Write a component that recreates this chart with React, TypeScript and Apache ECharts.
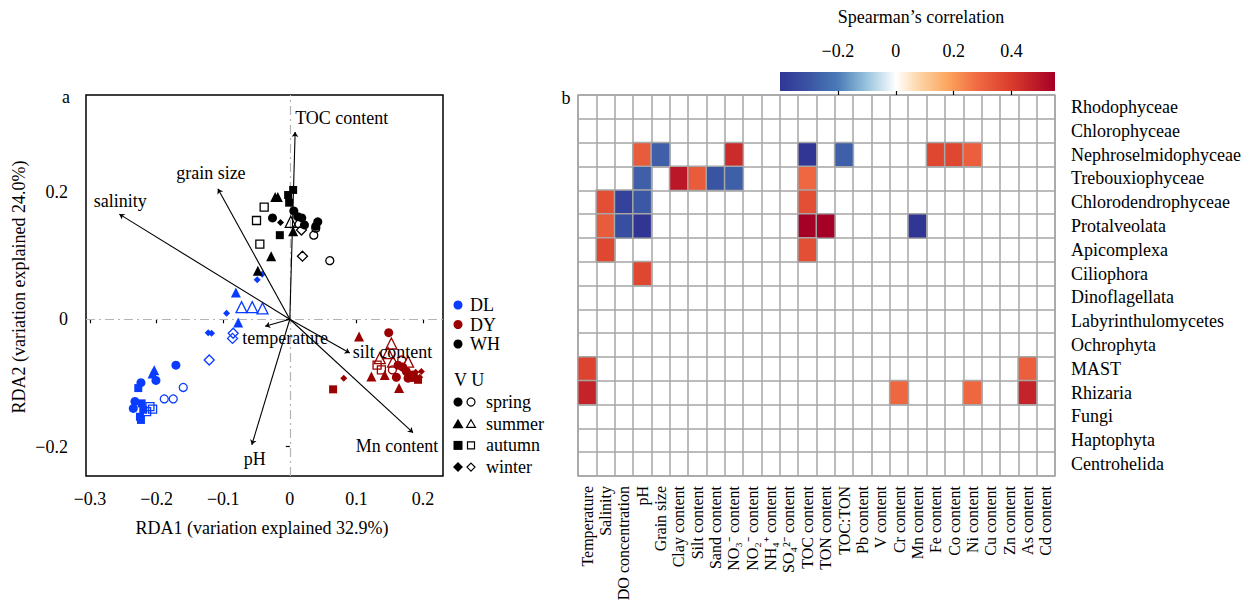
import React, { useEffect, useRef } from "react";
import * as echarts from "echarts";

const FONT = "'Liberation Serif', 'Times New Roman', Times, serif";

// ---------- Panel a: RDA ordination ----------
const sites = ["DL", "DY", "WH"];
const siteColors: Record<string, string> = { DL: "#0a3cff", DY: "#9a0000", WH: "#000000" };
const seasons = ["spring", "summer", "autumn", "winter"];
const seasonSymbols: Record<string, string> = { spring: "circle", summer: "triangle", autumn: "rect", winter: "diamond" };

// [RDA1, RDA2, season, vegetated V=1 / unvegetated U=0]
const DL_samples: [number, number, string, number][] = [
  [-0.171, -0.072, "spring", 1], [-0.201, -0.096, "spring", 1], [-0.2235, -0.0995, "spring", 1],
  [-0.2325, -0.129, "spring", 1], [-0.235, -0.14, "spring", 1],
  [-0.16, -0.107, "spring", 0], [-0.1885, -0.125, "spring", 0], [-0.175, -0.125, "spring", 0],
  [-0.081, 0.042, "summer", 1], [-0.0775, -0.005, "summer", 1], [-0.2035, -0.08, "summer", 1], [-0.206, -0.085, "summer", 1],
  [-0.0725, 0.019, "summer", 0], [-0.0565, 0.019, "summer", 0], [-0.041, 0.017, "summer", 0],
  [-0.2275, -0.108, "autumn", 1], [-0.2225, -0.132, "autumn", 1], [-0.22, -0.142, "autumn", 1],
  [-0.225, -0.153, "autumn", 1], [-0.2235, -0.158, "autumn", 1],
  [-0.21, -0.137, "autumn", 0], [-0.206, -0.141, "autumn", 0], [-0.215, -0.145, "autumn", 0],
  [-0.0415, 0.0705, "winter", 1], [-0.049, 0.062, "winter", 1], [-0.095, 0.0095, "winter", 1],
  [-0.1225, -0.021, "winter", 1], [-0.1175, -0.022, "winter", 1],
  [-0.085, -0.022, "winter", 0], [-0.086, -0.03, "winter", 0], [-0.121, -0.064, "winter", 0],
];

const DY_samples: [number, number, string, number][] = [
  [0.1485, -0.021, "spring", 1], [0.1625, -0.072, "spring", 1], [0.175, -0.082, "spring", 1],
  [0.185, -0.0875, "spring", 1], [0.1775, -0.0925, "spring", 1], [0.16, -0.091, "spring", 1], [0.1695, -0.075, "spring", 1],
  [0.154, -0.0795, "spring", 0], [0.168, -0.064, "spring", 0],
  [0.104, -0.027, "summer", 1], [0.1225, -0.09, "summer", 1], [0.1425, -0.0875, "summer", 1], [0.164, -0.108, "summer", 1],
  [0.1525, -0.038, "summer", 0], [0.1475, -0.053, "summer", 0], [0.135, -0.061, "summer", 0],
  [0.1775, -0.0665, "summer", 0], [0.155, -0.0665, "summer", 0],
  [0.065, -0.11, "autumn", 1], [0.1925, -0.095, "autumn", 1], [0.186, -0.092, "autumn", 1],
  [0.131, -0.072, "autumn", 0], [0.1375, -0.0795, "autumn", 0],
  [0.081, -0.0925, "winter", 1], [0.1975, -0.082, "winter", 1], [0.195, -0.091, "winter", 1], [0.189, -0.083, "winter", 1],
];

const WH_samples: [number, number, string, number][] = [
  [-0.026, 0.159, "spring", 1], [0.006, 0.17, "spring", 1], [0.012, 0.161, "spring", 1], [0.018, 0.159, "spring", 1],
  [0.022, 0.148, "spring", 1], [0.042, 0.153, "spring", 1], [0.039, 0.146, "spring", 1],
  [0.036, 0.132, "spring", 0], [0.039, 0.143, "spring", 0], [0.06, 0.092, "spring", 0],
  [-0.022, 0.192, "summer", 1], [-0.018, 0.192, "summer", 1], [0.005, 0.138, "summer", 1],
  [-0.028, 0.099, "summer", 1], [-0.048, 0.076, "summer", 1],
  [0.0015, 0.153, "summer", 0], [0.0135, 0.153, "summer", 0],
  [0.005, 0.203, "autumn", 1], [-0.0025, 0.195, "autumn", 1], [-0.001, 0.183, "autumn", 1], [-0.015, 0.132, "autumn", 1],
  [-0.0385, 0.176, "autumn", 0], [-0.05, 0.155, "autumn", 0], [-0.045, 0.118, "autumn", 0],
  [-0.014, 0.152, "winter", 1],
  [0.0175, 0.14, "winter", 0], [0.019, 0.099, "winter", 0],
];

const samplesBySite: Record<string, [number, number, string, number][]> = {
  DL: DL_samples, DY: DY_samples, WH: WH_samples,
};

// environmental vectors (biplot arrows)
const envVars = ["TOC content", "grain size", "salinity", "temperature", "silt content", "Mn content", "pH"];
const envRDA1 = [0.008, -0.108, -0.256, -0.037, 0.09, 0.185, -0.057];
const envRDA2 = [0.294, 0.205, 0.165, -0.011, -0.053, -0.178, -0.197];

const rdaXTicks = [-0.3, -0.2, -0.1, 0, 0.1, 0.2];
const rdaYTicks = [-0.2, 0, 0.2];

// ---------- Panel b: Spearman heatmap ----------
const factors = [
  "Temperature", "Salinity", "DO concentration", "pH", "Grain size", "Clay content", "Silt content",
  "Sand content", "NO\u2083\u207B content", "NO\u2082\u207B content", "NH\u2084\u207A content",
  "SO\u2084\u00B2\u207B content", "TOC content", "TON content", "TOC:TON", "Pb content", "V content",
  "Cr content", "Mn content", "Fe content", "Co content", "Ni content", "Cu content", "Zn content",
  "As content", "Cd content",
];
const taxa = [
  "Rhodophyceae", "Chlorophyceae", "Nephroselmidophyceae", "Trebouxiophyceae", "Chlorodendrophyceae",
  "Protalveolata", "Apicomplexa", "Ciliophora", "Dinoflagellata", "Labyrinthulomycetes", "Ochrophyta",
  "MAST", "Rhizaria", "Fungi", "Haptophyta", "Centrohelida",
];
// [factor index, taxon index, rho]
const corrCells: [number, number, number][] = [
  [3, 2, 0.32], [4, 2, -0.27], [8, 2, 0.44], [12, 2, -0.4], [14, 2, -0.27], [19, 2, 0.37], [20, 2, 0.37], [21, 2, 0.31],
  [3, 3, -0.27], [5, 3, 0.49], [6, 3, 0.32], [7, 3, -0.3], [8, 3, -0.27], [12, 3, 0.29],
  [1, 4, 0.35], [2, 4, -0.36], [3, 4, -0.29], [12, 4, 0.35],
  [1, 5, 0.32], [2, 5, -0.32], [3, 5, -0.4], [12, 5, 0.55], [13, 5, 0.55], [18, 5, -0.4],
  [1, 6, 0.37], [12, 6, 0.35],
  [3, 7, 0.37],
  [0, 11, 0.38], [24, 11, 0.31],
  [0, 12, 0.46], [17, 12, 0.29], [21, 12, 0.29], [24, 12, 0.46],
];
const cbTicks = [-0.2, 0, 0.2, 0.4];
const CB_MIN = -0.4;
const CB_MAX = 0.55;

const colorStops: [number, string][] = [
  [-0.4, "#313695"], [-0.3, "#3a54a4"], [-0.2, "#4a7bb7"], [-0.1, "#98c4de"], [0, "#ffffff"],
  [0.08, "#fdd5a8"], [0.18, "#fca55d"], [0.28, "#f06b43"], [0.4, "#d93b2b"], [0.55, "#a50026"],
];

function hexToRgb(h: string) {
  return [parseInt(h.slice(1, 3), 16), parseInt(h.slice(3, 5), 16), parseInt(h.slice(5, 7), 16)];
}
function colorAt(v: number) {
  if (v <= colorStops[0][0]) return colorStops[0][1];
  for (let i = 1; i < colorStops.length; i++) {
    if (v <= colorStops[i][0]) {
      const [v0, c0] = colorStops[i - 1];
      const [v1, c1] = colorStops[i];
      const t = (v - v0) / (v1 - v0);
      const a = hexToRgb(c0), b = hexToRgb(c1);
      const c = a.map((x, k) => Math.round(x + (b[k] - x) * t));
      return "#" + c.map((x) => x.toString(16).padStart(2, "0")).join("");
    }
  }
  return colorStops[colorStops.length - 1][1];
}

const fmt = (v: number) => (v < 0 ? "\u2212" + String(Math.abs(v)) : String(v));

// label offsets (px) for arrow labels
const envLabelStyle: Record<string, { offset: [number, number]; align: string }> = {
  "TOC content": { offset: [0, -14], align: "left" },
  "grain size": { offset: [-7, -16], align: "center" },
  "salinity": { offset: [1, -13], align: "center" },
  "temperature": { offset: [-23, 12], align: "left" },
  "silt content": { offset: [3, -1], align: "left" },
  "Mn content": { offset: [-16, 13], align: "center" },
  "pH": { offset: [3, 14], align: "center" },
};

const symbolSize: Record<string, [number, number]> = {
  // [filled, hollow]
  spring: [9, 8], summer: [10, 11], autumn: [8, 8], winter: [7, 10],
};

function buildOption() {
  const series: any[] = [];

  // sample points
  sites.forEach((site) => {
    seasons.forEach((season) => {
      [1, 0].forEach((veg) => {
        const pts = samplesBySite[site].filter((p) => p[2] === season && p[3] === veg).map((p) => [p[0], p[1]]);
        if (!pts.length) return;
        series.push({
          type: "scatter",
          name: `${site}-${season}-${veg ? "V" : "U"}`,
          xAxisIndex: 0, yAxisIndex: 0,
          symbol: seasonSymbols[season],
          symbolSize: symbolSize[season][veg ? 0 : 1],
          data: pts,
          itemStyle: veg
            ? { color: siteColors[site], borderWidth: 0, opacity: 1 }
            : { color: "rgba(255,255,255,0)", borderColor: siteColors[site], borderWidth: 1.3, opacity: 1 },
          z: 3,
          silent: true,
        });
      });
    });
  });

  // arrows
  series.push({
    type: "lines",
    coordinateSystem: "cartesian2d",
    xAxisIndex: 0, yAxisIndex: 0,
    symbol: ["none", "arrow"],
    symbolSize: 5,
    lineStyle: { color: "#000", width: 1.1, opacity: 1, curveness: 0 },
    data: envVars.map((n, i) => ({ coords: [[0, 0], [envRDA1[i], envRDA2[i]]] })),
    z: 5,
    silent: true,
  });

  // arrow labels + zero lines
  series.push({
    type: "scatter",
    xAxisIndex: 0, yAxisIndex: 0,
    symbolSize: 0,
    itemStyle: { opacity: 1 },
    data: envVars.map((n, i) => ({
      value: [envRDA1[i], envRDA2[i]],
      name: n,
      label: {
        show: true,
        position: "inside",
        formatter: n,
        offset: envLabelStyle[n].offset,
        align: envLabelStyle[n].align,
        verticalAlign: "middle",
        color: "#000",
        opacity: 1,
        fontSize: 18,
        fontFamily: FONT,
      },
    })),
    markLine: {
      silent: true,
      symbol: "none",
      label: { show: false },
      lineStyle: { color: "#b4b4b4", type: [9, 4, 2, 4], width: 1.2, opacity: 1 },
      data: [{ xAxis: 0 }, { yAxis: 0 }],
      z: 1,
    },
    z: 6,
    silent: true,
  });

  // heatmap
  series.push({
    type: "heatmap",
    xAxisIndex: 1, yAxisIndex: 1,
    data: corrCells.map((c) => [c[0], c[1], c[2]]),
    itemStyle: { borderColor: "#a6a6a6", borderWidth: 1.5 },
    silent: true,
  });
  const heatmapIndex = series.length - 1;

  // colorbar axis carrier
  series.push({ type: "scatter", xAxisIndex: 2, yAxisIndex: 2, data: [], silent: true });

  const textStyle = (size = 18) => ({ fontSize: size, fontFamily: FONT, color: "#000" });

  // legend graphics
  const legendEls: any[] = [];
  const LX = 458, LX2 = 471, LT = 486;
  sites.forEach((s, i) => {
    const y = 305 + i * 19.5;
    legendEls.push({ type: "circle", shape: { cx: LX, cy: y, r: 4.5 }, style: { fill: siteColors[s] } });
    legendEls.push({
      type: "text", x: LX + 12, y,
      style: { text: s, fill: "#000", font: `18px ${FONT}`, align: "left", verticalAlign: "middle", textAlign: "left", textVerticalAlign: "middle" },
    });
  });
  legendEls.push({
    type: "text", x: LX - 4, y: 380,
    style: { text: "V U", fill: "#000", font: `18px ${FONT}`, align: "left", verticalAlign: "middle", textAlign: "left", textVerticalAlign: "middle" },
  });
  const shapeEl = (season: string, cx: number, cy: number, filled: boolean) => {
    const style = filled ? { fill: "#000" } : { fill: "#fff", stroke: "#000", lineWidth: 1.2 };
    const r = filled ? 5 : 4;
    if (season === "spring") return { type: "circle", shape: { cx, cy, r: filled ? 4.5 : 4 }, style };
    if (season === "summer")
      return { type: "polygon", shape: { points: [[cx, cy - r], [cx + r * 1.1, cy + r * 0.9], [cx - r * 1.1, cy + r * 0.9]] }, style };
    if (season === "autumn") return { type: "rect", shape: { x: cx - r + 0.5, y: cy - r + 0.5, width: 2 * r - 1, height: 2 * r - 1 }, style };
    return { type: "polygon", shape: { points: [[cx, cy - r], [cx + r, cy], [cx, cy + r], [cx - r, cy]] }, style };
  };
  seasons.forEach((season, i) => {
    const y = 402 + i * 21.7;
    legendEls.push(shapeEl(season, LX, y, true));
    legendEls.push(shapeEl(season, LX2, y, false));
    legendEls.push({
      type: "text", x: LT, y,
      style: { text: season, fill: "#000", font: `18px ${FONT}`, align: "left", verticalAlign: "middle", textAlign: "left", textVerticalAlign: "middle" },
    });
  });

  const cbColors = Array.from({ length: 60 }, (_, i) => colorAt(CB_MIN + ((CB_MAX - CB_MIN) * i) / 59));
  const gradStops = colorStops.map(([v, c]) => ({ offset: (v - CB_MIN) / (CB_MAX - CB_MIN), color: c }));

  const txt = (text: string, x: number, y: number, extra: any = {}) => ({
    type: "text", x, y, ...extra,
    style: { text, fill: "#000", font: `18px ${FONT}`, align: "center", verticalAlign: "middle", textAlign: "center", textVerticalAlign: "middle" },
  });

  return {
    animation: false,
    backgroundColor: "#fff",
    textStyle: { fontFamily: FONT },
    grid: [
      { left: 86, top: 95, width: 357, height: 381, show: true, borderColor: "#000", borderWidth: 1.5, backgroundColor: "transparent" },
      { left: 578, top: 95, width: 477, height: 381, show: true, borderColor: "#a6a6a6", borderWidth: 1.5, backgroundColor: "transparent" },
      { left: 780, top: 72, width: 275, height: 19, show: false },
    ],
    xAxis: [
      {
        gridIndex: 0, type: "value", min: -0.306, max: 0.23,
        axisLine: { show: false },
        axisTick: { show: true, inside: false, length: 4, customValues: rdaXTicks, lineStyle: { color: "#000", width: 1.2 } },
        axisLabel: { customValues: rdaXTicks, formatter: fmt, margin: 14, ...textStyle() },
        splitLine: { show: false },
      },
      {
        gridIndex: 1, type: "category", data: factors, position: "bottom",
        axisLine: { show: false }, axisTick: { show: false },
        axisLabel: { interval: 0, rotate: 90, margin: 10, ...textStyle(16) },
        splitLine: { show: true, interval: 0, lineStyle: { color: "#a6a6a6", width: 1.5 } },
      },
      {
        gridIndex: 2, type: "value", min: CB_MIN, max: CB_MAX, position: "top", z: 10,
        axisLine: { show: false },
        axisTick: { show: true, inside: true, length: 4, customValues: cbTicks, lineStyle: { color: "#000", width: 1.2 } },
        axisLabel: { customValues: cbTicks, formatter: fmt, margin: 12, ...textStyle() },
        splitLine: { show: false },
      },
    ],
    yAxis: [
      {
        gridIndex: 0, type: "value", min: -0.246, max: 0.352,
        axisLine: { show: false },
        axisTick: { show: true, inside: false, length: 4, customValues: rdaYTicks, lineStyle: { color: "#000", width: 1.2 } },
        axisLabel: { customValues: rdaYTicks, formatter: fmt, margin: 18, ...textStyle() },
        splitLine: { show: false },
      },
      {
        gridIndex: 1, type: "category", data: taxa, inverse: true, position: "right",
        axisLine: { show: false }, axisTick: { show: false },
        axisLabel: { interval: 0, margin: 16, ...textStyle() },
        splitLine: { show: true, interval: 0, lineStyle: { color: "#a6a6a6", width: 1.5 } },
      },
      { gridIndex: 2, type: "value", min: 0, max: 1, show: false },
    ],
    visualMap: {
      type: "continuous", show: false, seriesIndex: heatmapIndex, dimension: 2,
      min: CB_MIN, max: CB_MAX, inRange: { color: cbColors },
    },
    graphic: {
      elements: [
        {
          type: "rect", z: 1,
          shape: { x: 780, y: 72, width: 275, height: 19 },
          style: { fill: new echarts.graphic.LinearGradient(0, 0, 1, 0, gradStops) },
        },
        txt("Spearman\u2019s correlation", 921, 17),
        txt("a", 66, 97),
        txt("b", 566, 98),
        txt("RDA1 (variation explained 32.9%)", 262, 528),
        txt("RDA2 (variation explained 24.0%)", 19, 287, { rotation: Math.PI / 2 }),
        ...legendEls,
      ],
    },
    series,
  };
}

export default function App() {
  const ref = useRef<HTMLDivElement>(null);
  useEffect(() => {
    if (!ref.current) return;
    const chart = echarts.init(ref.current, undefined, { renderer: "svg" });
    chart.setOption(buildOption() as any);
    return () => chart.dispose();
  }, []);
  return <div ref={ref} style={{ position: "fixed", left: 0, top: 0, width: 1258, height: 608, background: "#fff" }} />;
}
